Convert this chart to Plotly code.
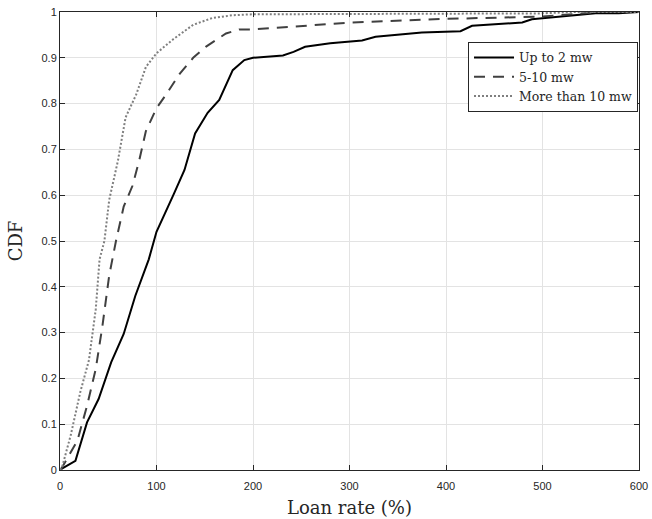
import plotly.graph_objects as go

# Data
x_small = [0, 2, 16, 28, 40, 53, 66, 78, 92, 100, 118, 129, 140, 153, 165, 179, 191, 200, 231, 242, 254, 280, 313, 327, 375, 415, 427, 479, 489, 517, 555, 579, 600]
y_small = [0, 0.003, 0.02, 0.104, 0.155, 0.235, 0.297, 0.38, 0.46, 0.52, 0.603, 0.655, 0.735, 0.78, 0.808, 0.873, 0.895, 0.9, 0.905, 0.913, 0.924, 0.932, 0.938, 0.946, 0.955, 0.958, 0.97, 0.977, 0.984, 0.989, 0.997, 0.997, 1.0]

x_mid = [0, 2, 18, 28, 37, 44, 51, 58, 66, 75, 82, 89, 100, 110, 124, 138, 151, 172, 186, 200, 248, 280, 300, 400, 500, 560, 600]
y_mid = [0, 0.005, 0.064, 0.14, 0.22, 0.315, 0.425, 0.5, 0.575, 0.62, 0.675, 0.74, 0.79, 0.82, 0.865, 0.9, 0.924, 0.953, 0.962, 0.962, 0.969, 0.973, 0.977, 0.985, 0.99, 1.0, 1.0]

x_large = [0, 2, 11, 21, 30, 37, 41, 46, 51, 60, 68, 79, 89, 100, 117, 138, 158, 179, 200, 300, 500, 530, 600]
y_large = [0, 0.005, 0.075, 0.17, 0.24, 0.35, 0.46, 0.5, 0.59, 0.675, 0.77, 0.82, 0.88, 0.91, 0.94, 0.972, 0.987, 0.993, 0.995, 0.996, 0.997, 1.0, 1.0]

names = ["Up to 2 mw", "5-10 mw", "More than 10 mw"]
x_ticks = [0, 100, 200, 300, 400, 500, 600]
y_ticks = [0, 0.1, 0.2, 0.3, 0.4, 0.5, 0.6, 0.7, 0.8, 0.9, 1]
y_tick_labels = ["0", "0.1", "0.2", "0.3", "0.4", "0.5", "0.6", "0.7", "0.8", "0.9", "1"]

fig = go.Figure()
fig.add_trace(go.Scatter(x=x_small, y=y_small, mode="lines", name=names[0],
                         line=dict(color="#000000", width=2, dash="solid")))
fig.add_trace(go.Scatter(x=x_mid, y=y_mid, mode="lines", name=names[1],
                         line=dict(color="#404040", width=2, dash="11px,8px")))
fig.add_trace(go.Scatter(x=x_large, y=y_large, mode="lines", name=names[2],
                         line=dict(color="#7f7f7f", width=2, dash="2px,2px")))

axis_common = dict(
    showline=True, linecolor="#262626", linewidth=1, mirror="ticks",
    ticks="inside", ticklen=5, tickcolor="#262626",
    showgrid=True, gridcolor="#e3e3e3", gridwidth=1, zeroline=False,
    automargin=False,
    tickfont=dict(family="Liberation Sans, Arial, sans-serif", size=11, color="#262626"),
)

title_font = dict(family="DejaVu Serif, serif", size=18, color="#262626")

fig.update_xaxes(range=[0, 600], tickvals=x_ticks, ticklabelstandoff=6, **axis_common,
                 title=dict(text="Loan rate (%)", standoff=10, font=title_font))
fig.update_yaxes(range=[0, 1], tickvals=y_ticks, ticktext=y_tick_labels, **axis_common,
                 title=dict(text="CDF", standoff=14, font=title_font))

fig.update_layout(
    width=652, height=519,
    margin=dict(l=60, r=13, t=12, b=49),
    paper_bgcolor="white", plot_bgcolor="white",
    showlegend=True,
    legend=dict(x=0.9983, y=0.935, xanchor="right", yanchor="top",
                bgcolor="white", bordercolor="#262626", borderwidth=1,
                font=dict(family="DejaVu Serif, serif", size=12.5, color="#262626"),
                tracegroupgap=0, itemwidth=40),
)

fig.write_html("out.html", config={"displayModeBar": False},
               post_script="document.body.style.margin='0';document.body.style.padding='0';")
